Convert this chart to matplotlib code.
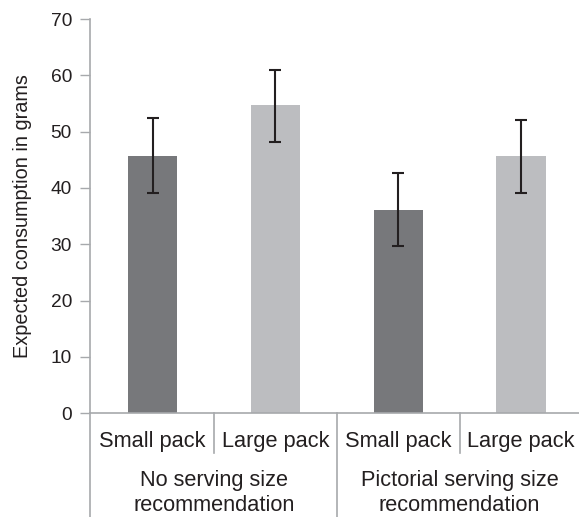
import matplotlib.pyplot as plt
import matplotlib.transforms as mtransforms

plt.rcParams['font.family'] = ['Liberation Sans', 'DejaVu Sans']

# Data
packs = ['Small pack', 'Large pack', 'Small pack', 'Large pack']
groups = ['No serving size\nrecommendation', 'Pictorial serving size\nrecommendation']
consumption = [45.7, 54.7, 36.1, 45.7]
err_upper = [52.4, 61.0, 42.6, 52.1]
err_lower = [39.1, 48.1, 29.7, 39.1]

bar_colors = ['#77787b', '#bcbdc0', '#77787b', '#bcbdc0']
text_col = '#231f20'
line_col = '#a7a9ac'

fig = plt.figure(figsize=(5.79, 5.17), dpi=100)
ax = fig.add_axes([0.1554, 0.2006, 0.8446, 0.7626])

x = list(range(len(consumption)))
yerr = [[c - lo for c, lo in zip(consumption, err_lower)],
        [hi - c for c, hi in zip(consumption, err_upper)]]
ax.bar(x, consumption, width=0.4, color=bar_colors, zorder=2)
ax.errorbar(x, consumption, yerr=yerr, fmt='none', ecolor=text_col,
            elinewidth=1.5, capsize=4, capthick=1.5, zorder=3)

ax.set_xlim(-0.509, 3.472)
ax.set_ylim(0, 70)
ax.set_yticks(range(0, 71, 10))
ax.set_xticks([])
ax.tick_params(axis='y', length=7, width=1, color=line_col, pad=6,
               labelsize=13.8, labelcolor=text_col)
for side in ['top', 'right']:
    ax.spines[side].set_visible(False)
for side in ['left', 'bottom']:
    ax.spines[side].set_color(line_col)
    ax.spines[side].set_linewidth(1.2)

# Category labels and separators below the axis
trans = mtransforms.blended_transform_factory(ax.transData, fig.transFigure)
y_axis = 0.2006
for i, name in enumerate(packs):
    ax.text(i, 0.147, name, transform=trans, ha='center', va='center',
            fontsize=15.7, color=text_col)
for sep, bottom in [(-0.509, 0.0), (0.5, 0.1238), (1.5, 0.0), (2.5, 0.1238)]:
    ax.plot([sep, sep], [y_axis, bottom], transform=trans, color=line_col,
            lw=1.2, clip_on=False)
for i, name in enumerate(groups):
    ax.text(2 * i + 0.5, 0.046, name, transform=trans, ha='center',
            va='center', fontsize=15.7, color=text_col, linespacing=1.22)

fig.text(23 / 579, 1 - 216 / 517, 'Expected consumption in grams',
         rotation=90, ha='center', va='center', fontsize=14.3, color=text_col)

fig.savefig('out.png', dpi=100)
